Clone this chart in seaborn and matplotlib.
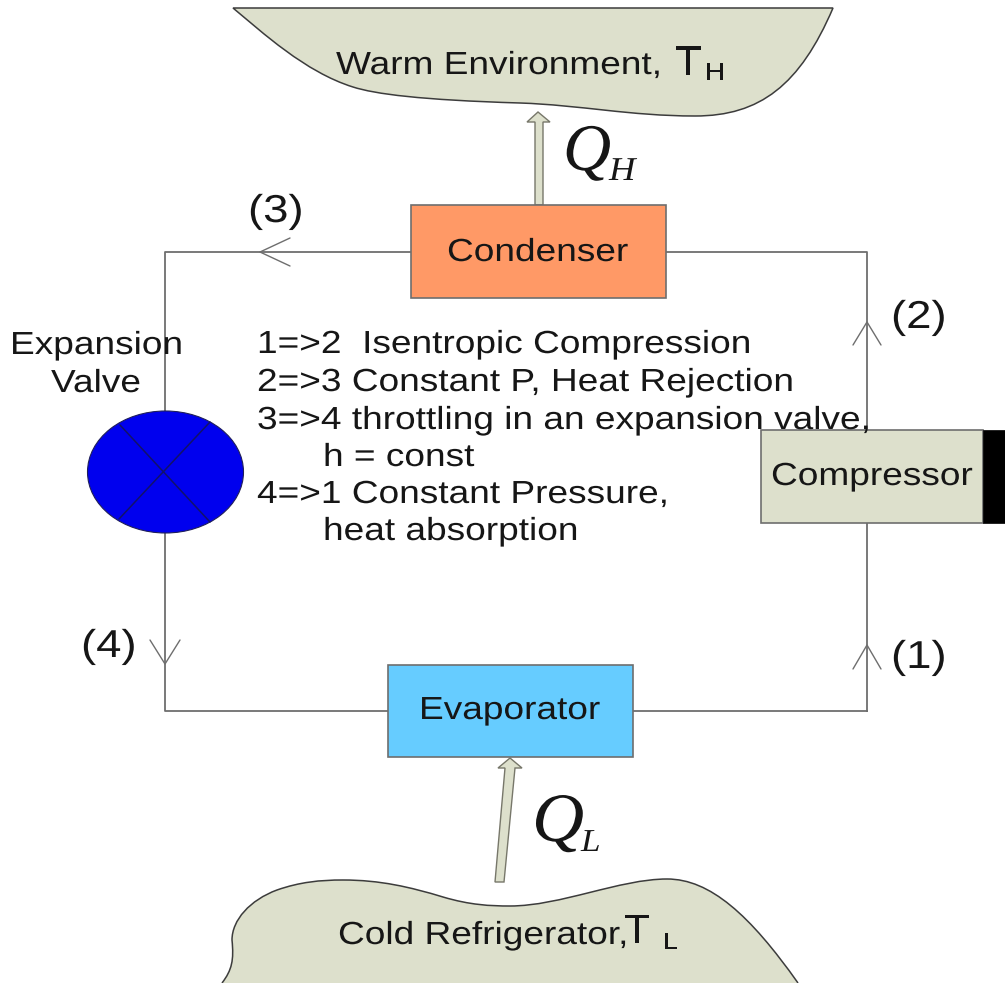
import matplotlib
matplotlib.use("Agg")
import matplotlib.pyplot as plt
import pandas as pd
import seaborn as sns
from matplotlib.patches import Ellipse, PathPatch, Polygon, Rectangle
from matplotlib.patheffects import AbstractPathEffect
from matplotlib.path import Path
from matplotlib.transforms import Affine2D

# Tout est en pixels de l'image de reference (y vers le bas)
W, H = 1005, 983
SABLE = "#dde0cc"
GRIS = "#6e6e6e"
NOIR = "#161616"

# Circuit frigorifique
loop_x = [867, 867, 165, 165, 867]
loop_y = [711, 252, 252, 711, 711]

# Blocs
blocs_noms = ["Condenser", "Evaporator", "Compressor"]
blocs_x = [411, 388, 761]
blocs_y = [205, 665, 430]
blocs_l = [255, 245, 222]
blocs_h = [93, 92, 93]
blocs_c = ["#ff9966", "#66ccff", SABLE]
blocs_tx = [447, 419, 771]
blocs_ty = [261, 719, 485]

# Points d'etat
etats = ["(1)", "(2)", "(3)", "(4)"]
etats_x = [891, 891, 248, 81]
etats_y = [668, 328, 222, 657]

# Chevrons du sens d'ecoulement : pointe et deux branches
chevrons_pointe = [(867, 645), (867, 322), (260, 252), (165, 664)]
chevrons_a = [(853, 669), (853, 345), (290, 238), (150, 640)]
chevrons_b = [(881, 669), (881, 345), (290, 266), (180, 640)]

# Description du cycle
cycle_textes = [
    "1=>2  Isentropic Compression",
    "2=>3 Constant P, Heat Rejection",
    "3=>4 throttling in an expansion valve,",
    "h = const",
    "4=>1 Constant Pressure,",
    "heat absorption",
]
cycle_x = [257, 257, 257, 323, 257, 323]
cycle_y = [353, 391, 429, 466, 503, 540]

sns.set_theme(style="white")
plt.rcParams["font.family"] = ["Liberation Sans", "DejaVu Sans"]

fig = plt.figure(figsize=(W / 100, H / 100), dpi=100)
ax = fig.add_axes([0, 0, 1, 1])


class Etire(AbstractPathEffect):
    # le texte de la reference est plus large que la police : on l'etire en x
    def __init__(self, sx):
        super().__init__()
        self.sx = sx

    def draw_path(self, renderer, gc, tpath, affine, rgbFace=None):
        renderer.draw_path(gc, tpath, Affine2D().scale(self.sx, 1) + affine, rgbFace)


def ecrit(x, y, t, size=23, sx=1.16, **kw):
    return ax.text(x, y, t, ha="left", va="baseline", fontsize=size, color=NOIR, zorder=6,
                   path_effects=[Etire(sx)], **kw)


def courbe(points):
    codes = [Path.MOVETO] + [Path.CURVE4] * (len(points) - 1)
    return codes, list(points)


# Source chaude
chaud = [(233, 8), (262, 32), (305, 72), (353, 87), (375, 94), (420, 100), (520, 103),
         (580, 105), (630, 116), (695, 116), (760, 116), (800, 85), (833, 8)]
codes, pts = courbe(chaud)
codes = codes + [Path.CLOSEPOLY]
pts = pts + [chaud[0]]
ax.add_patch(PathPatch(Path(pts, codes), fc=SABLE, ec="#3c3c3c", lw=1.1))

# Source froide
froid = [(222, 983), (232, 970), (234, 960), (232, 940),
         (232, 920), (250, 900), (277, 890),
         (300, 882), (320, 880), (343, 880),
         (380, 880), (410, 887), (443, 897),
         (470, 905), (490, 906), (510, 906),
         (560, 906), (620, 879), (667, 879),
         (710, 879), (750, 915), (798, 983)]
codes, pts = courbe(froid)
ax.add_patch(PathPatch(Path(pts, codes), fc=SABLE, ec="#3c3c3c", lw=1.1))

# Conduites
df_loop = pd.DataFrame({"x": loop_x, "y": loop_y})
sns.lineplot(data=df_loop, x="x", y="y", sort=False, estimator=None, color=GRIS, lw=1.3, ax=ax)

for pointe, a, b in zip(chevrons_pointe, chevrons_a, chevrons_b):
    ax.plot([a[0], pointe[0], b[0]], [a[1], pointe[1], b[1]], color=GRIS, lw=1.0)

# Detendeur
ax.add_patch(Ellipse((165.5, 472), 156, 122, fc="#0000ee", ec="#20205a", lw=0.8, zorder=3))
ax.plot([120, 210], [425, 522], color="#12126a", lw=1.1, zorder=4)
ax.plot([119, 210], [519, 422], color="#12126a", lw=1.1, zorder=4)

# Blocs
for nom, x, y, l, h, c, tx, ty in zip(blocs_noms, blocs_x, blocs_y, blocs_l, blocs_h, blocs_c, blocs_tx, blocs_ty):
    ax.add_patch(Rectangle((x, y), l, h, fc=c, ec=GRIS, lw=1.2, zorder=3))
    ecrit(tx, ty, nom)
ax.add_patch(Rectangle((983, 430), 22, 93, fc="black", ec="black", lw=0.5, zorder=4))

# Fleches de chaleur
qh = [(535, 205), (535, 122), (527, 122), (538, 112), (550, 122), (543, 122), (543, 205)]
ql = [(495, 882), (505, 768), (498, 768), (510, 758), (522, 768), (515, 768), (504, 882)]
for fleche in (qh, ql):
    ax.add_patch(Polygon(fleche, closed=True, fc=SABLE, ec="#77776a", lw=1.0, zorder=2))

# Textes
ecrit(336, 74, "Warm Environment,")
ecrit(675, 75, "T", size=30, sx=1.05)
ecrit(705, 80, "H", size=18, sx=1.1)
ecrit(338, 944, "Cold Refrigerator,")
ecrit(624, 943, "T", size=29, sx=1.05)
ecrit(663, 949, "L", size=17, sx=1.1)

ecrit(10, 354, "Expansion")
ecrit(51, 392, "Valve")

for t, x, y in zip(cycle_textes, cycle_x, cycle_y):
    ecrit(x, y, t)

for t, x, y in zip(etats, etats_x, etats_y):
    ecrit(x, y, t, size=28, sx=1.17)

# Q en italique serif
serif = dict(family="Liberation Serif", style="italic")
ecrit(563, 170, "Q", size=48, sx=1.0, **serif)
ecrit(609, 180, "H", size=24, sx=1.1, **serif)
ecrit(532, 841, "Q", size=50, sx=1.04, **serif)
ecrit(581, 851, "L", size=23, sx=1.1, **serif)

ax.set_xlim(0, W)
ax.set_ylim(H, 0)
ax.axis("off")
fig.savefig("out.png", dpi=100, facecolor="white")
